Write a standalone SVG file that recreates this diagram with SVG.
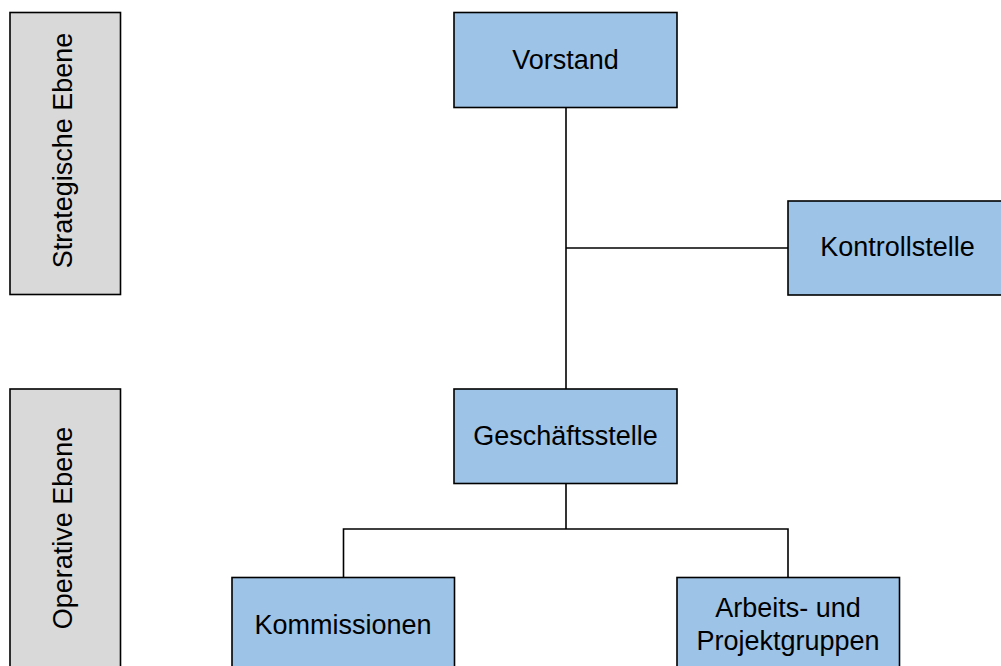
<svg xmlns="http://www.w3.org/2000/svg" width="1001" height="666" viewBox="0 0 1001 666">
<style>
.box{fill:#9dc3e6;stroke:#000;stroke-width:1.6}
.lvl{fill:#d9d9d9;stroke:#000;stroke-width:1.6}
.t{font-family:"Liberation Sans",Arial,sans-serif;font-size:27px;fill:#000;text-anchor:middle}
.c{fill:none;stroke:#000;stroke-width:1.6}
</style>
<rect width="1001" height="666" fill="#fff"/>
<g id="level-strategisch">
<rect class="lvl" x="10" y="12.5" width="110.5" height="282"/>
<text class="t" transform="translate(72,150.5) rotate(-90)">Strategische Ebene</text>
</g>
<g id="level-operativ">
<rect class="lvl" x="10" y="389" width="110.5" height="290"/>
<text class="t" transform="translate(72,528) rotate(-90)">Operative Ebene</text>
</g>
<g id="connectors">
<path class="c" d="M566 107.5V389"/>
<path class="c" d="M566 248H788"/>
<path class="c" d="M566 483.5V529"/>
<path class="c" d="M343.5 577.5V529H788V577.5"/>
</g>
<g id="vorstand">
<rect class="box" x="454" y="12.5" width="223" height="95"/>
<text class="t" x="565.5" y="68.5">Vorstand</text>
</g>
<g id="kontrollstelle">
<rect class="box" x="788" y="201" width="223" height="94"/>
<text class="t" x="897.5" y="256">Kontrollstelle</text>
</g>
<g id="geschaeftsstelle">
<rect class="box" x="454" y="389" width="223" height="94.5"/>
<text class="t" x="565.5" y="445">Geschäftsstelle</text>
</g>
<g id="kommissionen">
<rect class="box" x="232" y="577.5" width="222.5" height="100"/>
<text class="t" x="343" y="633.5">Kommissionen</text>
</g>
<g id="arbeitsgruppen">
<rect class="box" x="677" y="577.5" width="222.5" height="100"/>
<text class="t" x="788" y="617">Arbeits- und</text>
<text class="t" x="788" y="649.5">Projektgruppen</text>
</g>
</svg>
